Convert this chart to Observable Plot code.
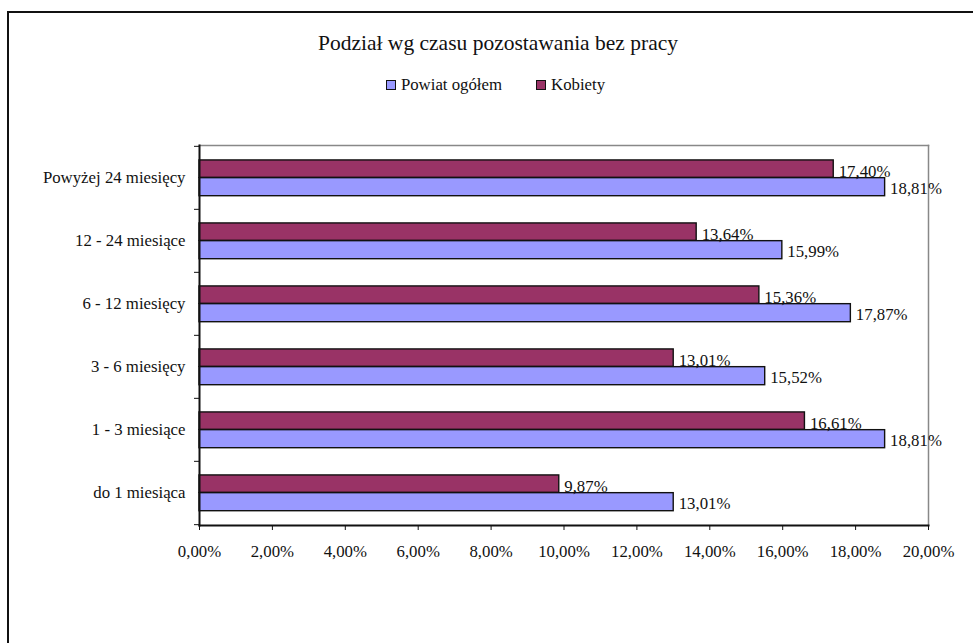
<!DOCTYPE html>
<html>
<head>
<meta charset="utf-8">
<script src="https://cdn.jsdelivr.net/npm/d3@7"></script>
<script src="https://cdn.jsdelivr.net/npm/@observablehq/plot@0.6"></script>
<style>
  html, body { margin: 0; padding: 0; background: #fff; overflow: hidden; }
  #wrap { position: relative; width: 973px; height: 643px; font-family: 'Liberation Serif', serif; color: #111; }
  #border { position: absolute; left: 7px; top: 11px; right: -10px; bottom: -10px; border-top: 2px solid #111; border-left: 2px solid #111; z-index: 2; pointer-events: none; }
  #title { position: absolute; left: 0; width: 996px; top: 31px; text-align: center; font-size: 21.5px; }
  #legend { position: absolute; left: 0; width: 991px; top: 75px; display: flex; justify-content: center; font-size: 16.8px; }
  .item { display: flex; align-items: center; }
  .item + .item { margin-left: 34px; }
  .sw { width: 8px; height: 8px; border: 1px solid #111; margin-right: 5px; }
  #chart { position: absolute; left: 0; top: 130px; }
  #chart svg { background: transparent; }
</style>
</head>
<body>
<div id="wrap">
  <div id="title">Podział wg czasu pozostawania bez pracy</div>
  <div id="legend"></div>
  <div id="chart"></div>
  <div id="border"></div>
</div>
<script>
// Categories, top to bottom as drawn
const categories = ["Powyżej 24 miesięcy", "12 - 24 miesiące", "6 - 12 miesięcy", "3 - 6 miesięcy", "1 - 3 miesiące", "do 1 miesiąca"];
// Series values (percent)
const powiatOgolem = [18.81, 15.99, 17.87, 15.52, 18.81, 13.01];
const kobiety = [17.40, 13.64, 15.36, 13.01, 16.61, 9.87];
// Series names & colours
const seriesNames = ["Powiat ogółem", "Kobiety"];
const seriesColors = ["#9999FF", "#993366"];
// X tick values (percent)
const xTicks = [0, 2, 4, 6, 8, 10, 12, 14, 16, 18, 20];

const fmt = v => v.toFixed(2).replace(".", ",") + "%";

const powiatData = categories.map((c, i) => ({cat: c, value: powiatOgolem[i]}));
const kobietyData = categories.map((c, i) => ({cat: c, value: kobiety[i]}));

// legend
const legend = document.getElementById("legend");
seriesNames.forEach((name, i) => {
  const it = document.createElement("div");
  it.className = "item";
  const sw = document.createElement("div");
  sw.className = "sw";
  sw.style.background = seriesColors[i];
  const t = document.createElement("span");
  t.textContent = name;
  it.appendChild(sw); it.appendChild(t);
  legend.appendChild(it);
});

const W = 973, H = 513, mt = 15, mb = 118, ml = 199, mr = 45;
const step = (H - mt - mb) / categories.length;
const FS = 16.8;

const chart = Plot.plot({
  width: W,
  height: H,
  marginTop: mt,
  marginBottom: mb,
  marginLeft: ml,
  marginRight: mr,
  style: {fontFamily: "'Liberation Serif', serif", fontSize: FS + "px", color: "#111", background: "transparent"},
  x: {domain: [0, 20], label: null},
  y: {domain: categories, padding: 0, label: null},
  marks: [
    Plot.frame({anchor: "top", stroke: "#888", strokeWidth: 1.5}),
    Plot.frame({anchor: "right", stroke: "#888", strokeWidth: 1.5}),
    Plot.barX(kobietyData, {y: "cat", x: "value", fill: seriesColors[1], stroke: "#111", strokeWidth: 1.4,
      insetTop: step * 0.22, insetBottom: step * 0.5}),
    Plot.barX(powiatData, {y: "cat", x: "value", fill: seriesColors[0], stroke: "#111", strokeWidth: 1.4,
      insetTop: step * 0.5, insetBottom: step * 0.21}),
    Plot.text(kobietyData, {y: "cat", x: "value", text: d => fmt(d.value), textAnchor: "start", dx: 5, dy: -6, fontSize: FS, fill: "#111"}),
    Plot.text(powiatData, {y: "cat", x: "value", text: d => fmt(d.value), textAnchor: "start", dx: 5, dy: 11, fontSize: FS, fill: "#111"}),
    Plot.frame({anchor: "left", stroke: "#111", strokeWidth: 2}),
    Plot.frame({anchor: "bottom", stroke: "#111", strokeWidth: 2}),
    Plot.axisX({ticks: xTicks, tickFormat: fmt, tickSize: 5, tickPadding: 15, stroke: "#111", fill: "#111", label: null}),
    Plot.axisY({tickSize: 0, tickPadding: 14, fill: "#111", label: null}),
    Plot.axisY({tickSize: 5, tickFormat: () => "", dy: -step / 2, stroke: "#111", label: null}),
    Plot.axisY({ticks: [categories[categories.length - 1]], tickSize: 5, tickFormat: () => "", dy: step / 2, stroke: "#111", label: null})
  ]
});
document.getElementById("chart").appendChild(chart);
</script>
</body>
</html>
